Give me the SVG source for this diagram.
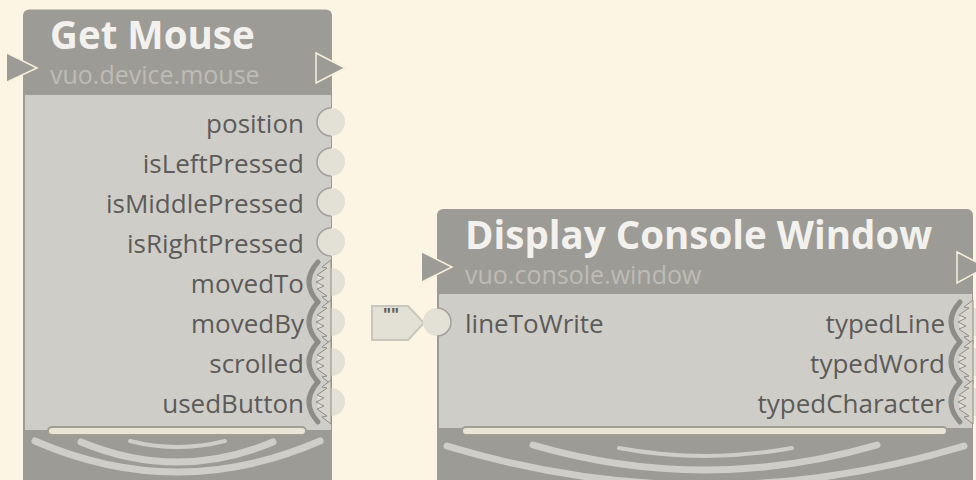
<svg xmlns="http://www.w3.org/2000/svg" xmlns:xlink="http://www.w3.org/1999/xlink" width="976" height="480" viewBox="0 0 976 480">
<style>
.hdr{fill:#9D9B95}
.body{fill:#CFCDC8}
.title{font-family:"Open Sans","Noto Sans",sans-serif;font-weight:bold;font-size:38.5px;fill:#F2F1EE}
.sub{font-family:"Open Sans","Noto Sans",sans-serif;font-weight:normal;font-size:25px;fill:#BDBBB5}
.lbl{font-family:"Open Sans","Noto Sans",sans-serif;font-size:26px;fill:#5C5B59}
.r{text-anchor:end}
.port{fill:#E3E0D6}
.pedge{fill:none;stroke:#A3A19B;stroke-width:1.5}
.trigIn{fill:#9D9B95}
.trigEdge{fill:none;stroke:#F6EFDC;stroke-width:1.5}
.trigOut{fill:#9D9B95;stroke:#F6EFDC;stroke-width:1.5}
.bar{fill:#E9E5D7;stroke:#A29E94;stroke-width:2}
.arc{fill:none;stroke:#CFCDC8;stroke-width:7;stroke-linecap:round}
.arcs{fill:none;stroke:#CFCDC8;stroke-width:4;stroke-linecap:round}
.flag{fill:#E3E0D6;stroke:#C9C6BC;stroke-width:2}
.flagt{font-family:"Open Sans","Noto Sans",sans-serif;font-weight:bold;font-size:17px;fill:#5C5B59;text-anchor:middle}
</style>
<defs>
<g id="ev">
<polygon points="0,-22 -9,-15 -4,-14 -14,-7 -7,-4 -15,0 -7,4 -14,7 -4,14 -9,15 0,22" fill="#D8D5CD" stroke="#8E8C87" stroke-width="1"/>
<path d="M-13,-20 Q-31,0 -13,20" fill="none" stroke="#8E8C87" stroke-width="5" stroke-linecap="round"/>
</g>
</defs>
<rect width="976" height="480" fill="#FCF5E3"/>
<g id="connectors"></g>
<g id="node-get-mouse">
<rect class="hdr" x="23" y="9.5" width="309" height="480" rx="6"/>
<rect class="body" x="25" y="95" width="306" height="335"/>
<text class="title" x="50" y="48.5">Get Mouse</text>
<text class="sub" x="50" y="84">vuo.device.mouse</text>
<polygon class="trigIn" points="7,53 38,68 7,82"/>
<polyline class="trigEdge" points="7,53 37,68 7,82"/>
<polygon class="trigOut" points="316,53 345,68 316,83"/>
<circle class="port" cx="331" cy="122" r="14"/><path class="pedge" d="M331,108 A14,14 0 0 0 331,136"/>
<circle class="port" cx="331" cy="162" r="14"/><path class="pedge" d="M331,148 A14,14 0 0 0 331,176"/>
<circle class="port" cx="331" cy="202" r="14"/><path class="pedge" d="M331,188 A14,14 0 0 0 331,216"/>
<circle class="port" cx="331" cy="242" r="14"/><path class="pedge" d="M331,228 A14,14 0 0 0 331,256"/>
<circle class="port" cx="331" cy="282" r="14"/>
<circle class="port" cx="331" cy="322" r="14"/>
<circle class="port" cx="331" cy="362" r="14"/>
<circle class="port" cx="331" cy="402" r="14"/>
<use xlink:href="#ev" href="#ev" transform="translate(331,282)"/>
<use xlink:href="#ev" href="#ev" transform="translate(331,322)"/>
<use xlink:href="#ev" href="#ev" transform="translate(331,362)"/>
<use xlink:href="#ev" href="#ev" transform="translate(331,402)"/>
<text class="lbl r" x="304" y="133">position</text>
<text class="lbl r" x="304" y="173">isLeftPressed</text>
<text class="lbl r" x="304" y="213">isMiddlePressed</text>
<text class="lbl r" x="304" y="253">isRightPressed</text>
<text class="lbl r" x="304" y="293">movedTo</text>
<text class="lbl r" x="304" y="333">movedBy</text>
<text class="lbl r" x="304" y="373">scrolled</text>
<text class="lbl r" x="304" y="413">usedButton</text>
<rect class="bar" x="48" y="427" width="258" height="8" rx="4"/>
<path class="arc" d="M35,441 Q177,503 320,441"/>
<path class="arc" d="M81,442 Q177,482 273,442"/>
<path class="arcs" d="M130,441 Q177,453 225,441"/>
</g>
<g id="node-display-console-window">
<rect class="hdr" x="437" y="209" width="536" height="290" rx="6"/>
<rect class="body" x="439" y="294" width="533" height="134"/>
<text class="title" x="465" y="248.5">Display Console Window</text>
<text class="sub" x="465" y="284">vuo.console.window</text>
<polygon class="trigIn" points="422,252 453,267 422,282"/>
<polyline class="trigEdge" points="422,252 452,267 422,282"/>
<polygon class="trigOut" points="957,252 986,267 957,283"/>
<polygon class="flag" points="372,306 408,306 424,323 408,340 372,340"/>
<text class="flagt" x="391" y="321">""</text>
<circle class="port" cx="437" cy="322" r="14"/><path class="pedge" d="M437,308 A14,14 0 0 1 437,336"/>
<text class="lbl" x="465" y="333">lineToWrite</text>
<circle class="port" cx="973" cy="322" r="14"/>
<circle class="port" cx="973" cy="362" r="14"/>
<circle class="port" cx="973" cy="402" r="14"/>
<use xlink:href="#ev" href="#ev" transform="translate(973,322)"/>
<use xlink:href="#ev" href="#ev" transform="translate(973,362)"/>
<use xlink:href="#ev" href="#ev" transform="translate(973,402)"/>
<text class="lbl r" x="945" y="333">typedLine</text>
<text class="lbl r" x="945" y="373">typedWord</text>
<text class="lbl r" x="945" y="413">typedCharacter</text>
<rect class="bar" x="462" y="427" width="485" height="8" rx="4"/>
<path class="arc" d="M447,446 Q705,524 964,446"/>
<path class="arc" d="M533,445 Q705,495 877,445"/>
<path class="arcs" d="M619,448 Q705,464 792,448"/>
</g>
</svg>
